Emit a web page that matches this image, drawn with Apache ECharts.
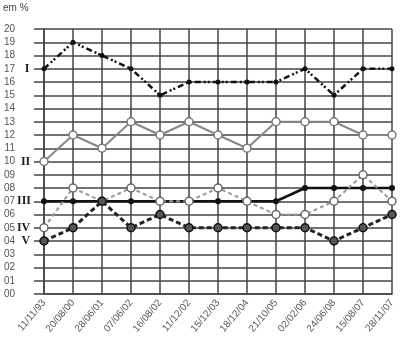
<!DOCTYPE html>
<html><head><meta charset="utf-8">
<script src="https://cdn.jsdelivr.net/npm/echarts@6/dist/echarts.min.js"></script>
<style>html,body{margin:0;padding:0;background:#fff}#c{width:400px;height:340px}</style>
</head><body><div id="c"></div>
<script>
var categories = ['11/11/93','20/08/00','28/06/01','07/06/02','16/08/02','11/12/02','15/12/03','18/12/04','21/10/05','02/02/06','24/06/08','15/08/07','28/11/07'];
var seriesNames = ['I','II','III','IV','V'];
var valuesI   = [17,19,18,17,15,16,16,16,16,17,15,17,17];
var valuesII  = [10,12,11,13,12,13,12,11,13,13,13,12,12];
var valuesIII = [7,7,7,7,7,7,7,7,7,8,8,8,8];
var valuesIV  = [5,8,7,8,7,7,8,7,6,6,7,9,7];
var valuesV   = [4,5,7,5,6,5,5,5,5,5,4,5,6];
var yMin = 0, yMax = 20, yStep = 1;

var gridColor = '#444';
function withName(vals, name, dist){
  return vals.map(function(v,i){
    if(i!==0) return v;
    return {value:v, label:{show:true, position:'left', distance:dist, formatter:name,
      fontFamily:'Liberation Serif', fontWeight:'bold', fontSize:12, color:'#222'}};
  });
}
var chart = echarts.init(document.getElementById('c'), null, {renderer:'canvas'});
chart.setOption({
  animation:false,
  backgroundColor:'#fff',
  graphic:[{type:'text', left:3, top:3, style:{text:'em %', font:'10px "Liberation Sans", Arial', fill:'#444'}}],
  grid:{left:44, right:8, top:29, bottom:46, containLabel:false},
  xAxis:{type:'category', data:categories, boundaryGap:false,
    axisLine:{show:true, lineStyle:{color:gridColor, width:1.5}},
    axisTick:{show:false},
    axisLabel:{rotate:50, interval:0, fontSize:10, color:'#555', margin:7, fontFamily:'Liberation Sans'},
    splitLine:{show:true, lineStyle:{color:gridColor, width:1.5}}},
  yAxis:{type:'value', min:yMin, max:yMax, interval:yStep,
    axisLine:{show:true, lineStyle:{color:gridColor, width:1.5}},
    axisTick:{show:true, length:10, lineStyle:{color:gridColor, width:1.5}},
    axisLabel:{fontSize:10, color:'#555', margin:29, fontFamily:'Liberation Sans',
      formatter:function(v){return (v<10?'0':'')+v;}},
    splitLine:{show:true, lineStyle:{color:gridColor, width:1.5}}},
  series:[
    {name:seriesNames[0], type:'line', data:withName(valuesI,'I',12), symbol:'circle', symbolSize:5,
      lineStyle:{color:'#111', width:2.5, type:[6,3,2,2,2,3]}, itemStyle:{color:'#111'}},
    {name:seriesNames[1], type:'line', data:withName(valuesII,'II',9), symbol:'circle', symbolSize:8,
      lineStyle:{color:'#888', width:2}, itemStyle:{color:'#fff', borderColor:'#777', borderWidth:1.5}},
    {name:seriesNames[2], type:'line', data:withName(valuesIII,'III',10), symbol:'circle', symbolSize:6,
      lineStyle:{color:'#111', width:2.5}, itemStyle:{color:'#111'}},
    {name:seriesNames[3], type:'line', data:withName(valuesIV,'IV',9), symbol:'circle', symbolSize:8,
      lineStyle:{color:'#999', width:2, type:[4,3]}, itemStyle:{color:'#fff', borderColor:'#666', borderWidth:1.5}},
    {name:seriesNames[4], type:'line', data:withName(valuesV,'V',9), symbol:'circle', symbolSize:8,
      lineStyle:{color:'#222', width:3, type:[5,3]}, itemStyle:{color:'#555', borderColor:'#111', borderWidth:1.5}}
  ]
});
</script></body></html>
